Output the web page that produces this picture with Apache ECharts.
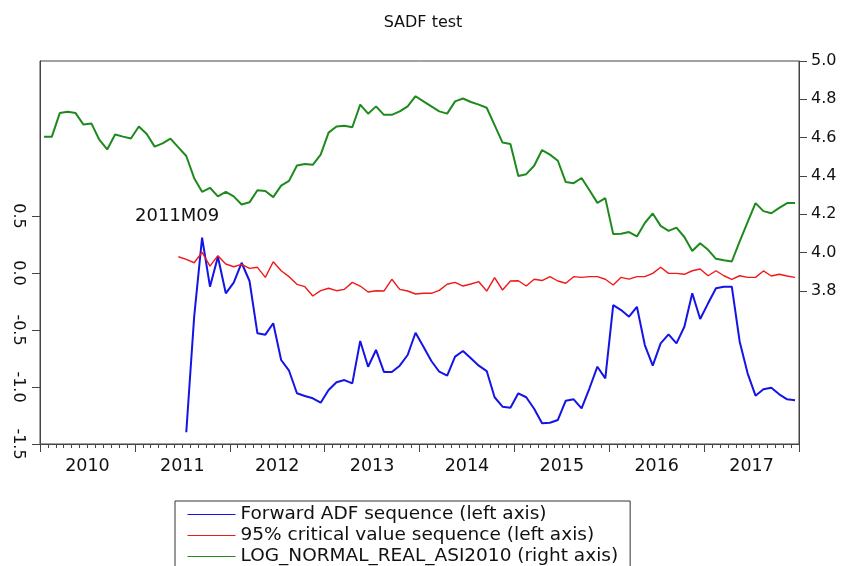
<!DOCTYPE html>
<html>
<head>
<meta charset="utf-8">
<script src="https://cdn.jsdelivr.net/npm/echarts@6/dist/echarts.min.js"></script>
<style>html,body{margin:0;padding:0;background:#fff}#c{width:846px;height:566px}</style>
</head>
<body>
<div id="c"></div>
<script>
// Months 2010M01 .. 2017M12
var yearLabels = ['2010','2011','2012','2013','2014','2015','2016','2017'];
var months = [];
yearLabels.forEach(function(y){ for (var m = 1; m <= 12; m++) months.push(y + 'M' + (m < 10 ? '0' + m : m)); });

var leftTicks = [-1.5, -1.0, -0.5, 0.0, 0.5];
var rightTicks = [3.8, 4.0, 4.2, 4.4, 4.6, 4.8, 5.0];

var forwardADF = [
 null,null,null,null,null,null,null,null,null,null,null,null,
 null,null,null,null,null,null,-1.397,-0.383,0.310,-0.120,0.143,-0.178,
 -0.085,0.090,-0.070,-0.529,-0.541,-0.441,-0.763,-0.857,-1.055,-1.079,-1.099,-1.138,
 -1.026,-0.959,-0.939,-0.968,-0.596,-0.822,-0.675,-0.868,-0.868,-0.813,-0.719,-0.524,
 -0.646,-0.772,-0.866,-0.901,-0.734,-0.684,-0.748,-0.813,-0.860,-1.090,-1.173,-1.182,
 -1.055,-1.090,-1.191,-1.318,-1.313,-1.289,-1.120,-1.108,-1.187,-1.011,-0.822,-0.924,
 -0.281,-0.325,-0.383,-0.296,-0.632,-0.813,-0.617,-0.538,-0.617,-0.471,-0.178,-0.404,
 -0.266,-0.134,-0.120,-0.120,-0.603,-0.880,-1.076,-1.020,-1.006,-1.064,-1.108,-1.117
];
var criticalValue = [
 null,null,null,null,null,null,null,null,null,null,null,null,
 null,null,null,null,null,0.143,0.120,0.090,0.182,0.061,0.152,0.079,
 0.055,0.076,0.041,0.050,-0.038,0.099,0.020,-0.032,-0.099,-0.120,-0.202,-0.155,
 -0.134,-0.155,-0.143,-0.082,-0.114,-0.167,-0.155,-0.158,-0.055,-0.143,-0.158,-0.184,
 -0.178,-0.178,-0.152,-0.099,-0.082,-0.114,-0.096,-0.076,-0.158,-0.041,-0.149,-0.070,
 -0.068,-0.114,-0.055,-0.066,-0.032,-0.070,-0.090,-0.032,-0.038,-0.032,-0.032,-0.055,
 -0.105,-0.038,-0.053,-0.032,-0.032,-0.003,0.050,-0.003,-0.003,-0.011,0.020,0.035,
 -0.024,0.020,-0.024,-0.055,-0.024,-0.038,-0.038,0.018,-0.026,-0.011,-0.026,-0.038
];
var logAsi = [
 4.605,4.605,4.728,4.735,4.728,4.668,4.674,4.589,4.538,4.616,4.605,4.595,
 4.658,4.619,4.553,4.570,4.595,4.549,4.504,4.388,4.317,4.338,4.293,4.317,
 4.293,4.251,4.262,4.325,4.321,4.289,4.349,4.374,4.454,4.462,4.458,4.511,
 4.626,4.658,4.662,4.654,4.772,4.725,4.763,4.719,4.719,4.737,4.763,4.816,
 4.789,4.763,4.737,4.725,4.789,4.804,4.786,4.772,4.756,4.665,4.574,4.567,
 4.400,4.409,4.453,4.535,4.511,4.479,4.368,4.362,4.389,4.325,4.259,4.284,
 4.096,4.098,4.107,4.084,4.154,4.204,4.139,4.113,4.130,4.081,4.008,4.048,
 4.014,3.967,3.959,3.953,4.058,4.158,4.258,4.216,4.205,4.233,4.258,4.258
];

var FONT = 'DejaVu Sans';
var AX = '#444';
var chart = echarts.init(document.getElementById('c'), null, {renderer: 'canvas'});
chart.setOption({
  animation: false,
  backgroundColor: '#fff',
  title: {
    text: 'SADF test', left: 'center', top: 10,
    textStyle: {fontFamily: FONT, fontSize: 16, fontWeight: 'normal', color: '#111'}
  },
  grid: {left: 40, right: 47, top: 61, bottom: 122, show: true, borderColor: AX, borderWidth: 1, backgroundColor: 'transparent'},
  legend: {
    orient: 'vertical', left: 175, top: 501, height: 120,
    padding: [4, 12, 6, 12], itemGap: 2, itemWidth: 48, itemHeight: 14,
    borderColor: '#333', borderWidth: 1, borderRadius: 0,
    textStyle: {fontFamily: FONT, fontSize: 18.5, color: '#111', lineHeight: 17},
    lineStyle: {width: 1},
    itemStyle: {opacity: 0, borderWidth: 0},
    data: ['Forward ADF sequence (left axis)', '95% critical value sequence (left axis)', 'LOG_NORMAL_REAL_ASI2010 (right axis)']
  },
  graphic: [{
    type: 'text', left: 135, top: 207,
    style: {text: '2011M09', fontFamily: FONT, fontSize: 18, fill: '#111'}
  }],
  xAxis: [{
    type: 'category', data: months, position: 'bottom', boundaryGap: true,
    axisLine: {show: true, onZero: false, lineStyle: {color: AX, width: 1}},
    axisTick: {show: true, interval: 0, length: 4, lineStyle: {color: AX}},
    axisLabel: {show: false}, splitLine: {show: false}
  }, {
    type: 'category', data: months, position: 'bottom', boundaryGap: true,
    axisLine: {show: false, onZero: false},
    axisTick: {show: true, interval: 11, length: 8, lineStyle: {color: AX}},
    axisLabel: {show: false}, splitLine: {show: false}
  }, {
    type: 'value', position: 'bottom', min: 0, max: 96, interval: 6,
    axisLine: {show: false, onZero: false}, axisTick: {show: false}, splitLine: {show: false},
    axisLabel: {
      show: true, margin: 13, fontFamily: FONT, fontSize: 17.5, color: '#111',
      formatter: function (v) { return (v % 12 === 6) ? yearLabels[(v - 6) / 12] : ''; }
    }
  }],
  yAxis: [{
    type: 'value', position: 'left', min: -1.5, max: 1.86,
    axisLine: {show: true, onZero: false, lineStyle: {color: AX}},
    axisTick: {show: true, length: 8, customValues: leftTicks, lineStyle: {color: AX}},
    axisLabel: {
      show: true, customValues: leftTicks, rotate: -90, margin: 14,
      fontFamily: FONT, fontSize: 16, color: '#111',
      formatter: function (v) { return v.toFixed(1); }
    },
    splitLine: {show: false}
  }, {
    type: 'value', position: 'right', min: 3.0, max: 5.0,
    axisLine: {show: true, onZero: false, lineStyle: {color: AX}},
    axisTick: {show: true, length: 8, customValues: rightTicks, lineStyle: {color: AX}},
    axisLabel: {
      show: true, customValues: rightTicks, margin: 12,
      fontFamily: FONT, fontSize: 16, color: '#111',
      formatter: function (v) { return v.toFixed(1); }
    },
    splitLine: {show: false}
  }],
  series: [{
    name: 'Forward ADF sequence (left axis)', type: 'line', xAxisIndex: 0, yAxisIndex: 0,
    data: forwardADF, symbol: 'none', connectNulls: false,
    lineStyle: {color: '#1414e6', width: 2}, itemStyle: {color: '#1414e6'}
  }, {
    name: '95% critical value sequence (left axis)', type: 'line', xAxisIndex: 0, yAxisIndex: 0,
    data: criticalValue, symbol: 'none',
    lineStyle: {color: '#f01818', width: 1.4}, itemStyle: {color: '#f01818'}
  }, {
    name: 'LOG_NORMAL_REAL_ASI2010 (right axis)', type: 'line', xAxisIndex: 0, yAxisIndex: 1,
    data: logAsi, symbol: 'none',
    lineStyle: {color: '#1e8a1e', width: 2}, itemStyle: {color: '#1e8a1e'}
  }]
});
</script>
</body>
</html>
